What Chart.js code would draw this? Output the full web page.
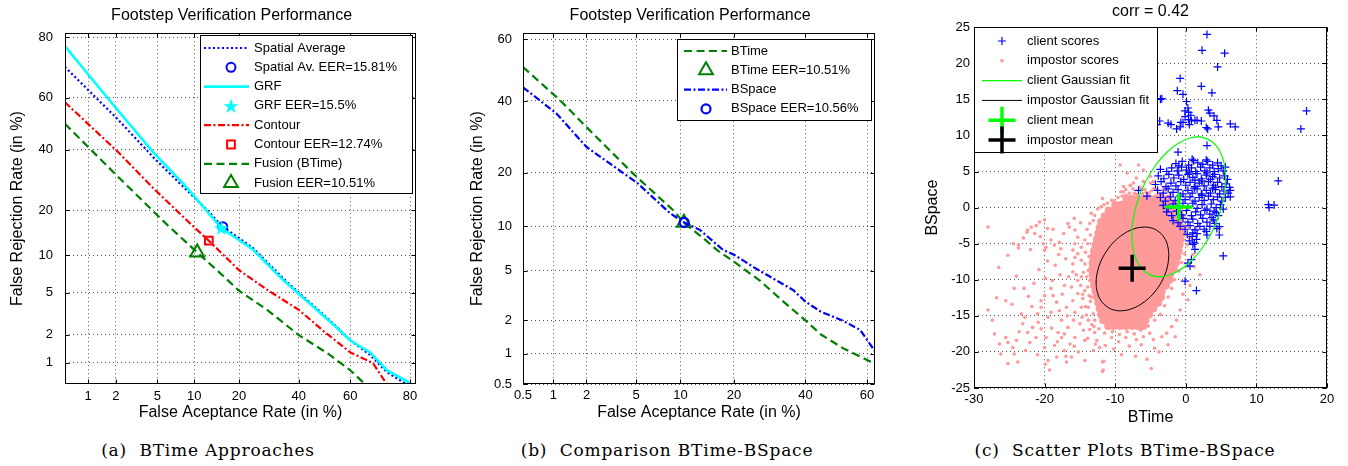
<!DOCTYPE html>
<html>
<head>
<meta charset="utf-8">
<title>Footstep Verification Performance</title>
<script src="https://cdn.jsdelivr.net/npm/chart.js"></script>
<style>
  body { margin: 0; background: #fff; width: 1348px; height: 466px; position: relative; overflow: hidden; }
  canvas { position: absolute; top: 0; }
  #detA { left: 0; }
  #detB { left: 460px; }
  #scatterC { left: 900px; }
  .caption { position: absolute; top: 440px; width: 320px; text-align: center; font: 17px/20px "DejaVu Serif", serif; letter-spacing: 0.8px; white-space: pre; color: #000; }
</style>
</head>
<body>
<canvas id="detA" width="440" height="430"></canvas>
<canvas id="detB" width="440" height="430"></canvas>
<canvas id="scatterC" width="448" height="430"></canvas>
<div class="caption" style="left:48px">(a)  BTime Approaches</div>
<div class="caption" style="left:507px">(b)  Comparison BTime-BSpace</div>
<div class="caption" style="left:965px">(c)  Scatter Plots BTime-BSpace</div>
<script>
// ---- (a) BTime approaches, DET curves (FAR %, FRR %)
const detTicksA = [1, 2, 5, 10, 20, 40, 60, 80];
const spatialFar = [0.53, 2.06, 4.77, 8.8, 12.4, 15.81, 24.1, 34.2, 43.2, 53.3, 59.9, 67.3, 73.0, 79.0];
const spatialFrr = [71.0, 52.0, 36.5, 25.8, 20.0, 15.81, 11.3, 6.6, 4.3, 2.6, 1.76, 1.22, 0.78, 0.56];
const grfFar = [0.53, 2.06, 4.6, 8.8, 15.5, 24.1, 34.2, 43.2, 53.3, 59.9, 67.3, 73.0, 80.5];
const grfFrr = [77.5, 55.5, 39.0, 26.6, 15.5, 11.0, 6.4, 4.2, 2.55, 1.75, 1.3, 0.82, 0.56];
const contourFar = [0.53, 2.06, 4.6, 8.8, 12.74, 20.0, 28.6, 40.0, 49.4, 60.0, 68.3, 73.0];
const contourFrr = [58.3, 39.5, 26.5, 17.3, 12.74, 7.7, 5.3, 3.5, 2.2, 1.3, 0.99, 0.56];
const fusionFar = [0.53, 2.06, 6.1, 10.51, 15.2, 20.0, 28.6, 40.0, 51.0, 60.0, 65.5];
const fusionFrr = [50.0, 30.6, 16.2, 10.51, 7.3, 5.2, 3.5, 1.98, 1.28, 0.82, 0.56];
const spatialEer = 15.81, grfEer = 15.5, contourEer = 12.74, fusionEer = 10.51;

// ---- (b) BTime vs BSpace
const detTicksB = [0.5, 1, 2, 5, 10, 20, 40, 60];
const btimeFar = [0.5, 1.16, 2.0, 4.7, 9.0, 10.51, 13.7, 16.3, 20.0, 26.5, 33.2, 40.0, 45.0, 52.3, 60.0, 62.5];
const btimeFrr = [51.0, 40.2, 32.0, 19.9, 12.5, 10.51, 8.4, 7.0, 5.8, 4.2, 2.87, 2.0, 1.5, 1.12, 0.87, 0.8];
const bspaceFar = [0.5, 1.07, 2.0, 5.1, 8.6, 10.56, 13.1, 17.6, 20.0, 24.8, 29.0, 36.2, 40.0, 45.0, 52.0, 57.8, 62.5];
const bspaceFrr = [44.4, 36.1, 26.4, 17.7, 12.0, 10.56, 9.5, 7.0, 6.5, 5.3, 4.55, 3.55, 2.87, 2.37, 2.0, 1.65, 1.05];
const btimeEer = 10.51, bspaceEer = 10.56;

// ---- (c) scatter BTime / BSpace scores
const clientScores = [
  // sparse ones
  [3.0,24.0],[2.3,21.8],[5.5,21.4],[4.5,19.5],[-0.8,17.9],[-1.2,16.2],[-0.4,15.7],[2.2,16.8],[3.7,15.9],
  [0.1,14.7],[-3.4,15.1],[-3.6,15.0],[0.3,13.8],[-0.1,13.4],[0.4,13.2],[-0.1,12.6],[0.7,12.8],[0.4,12.2],
  [0.8,12.0],[-0.4,11.8],[0.5,11.5],[3.2,13.5],[3.4,13.1],[4.0,12.7],[4.4,12.1],[-0.7,11.8],[-0.8,11.2],
  [1.6,12.1],[2.2,12.0],[1.3,12.1],[-3.7,12.0],[-2.5,11.7],[-2.1,11.5],[-1.3,10.9],[2.9,11.1],[3.1,10.9],
  [4.6,11.2],[6.3,11.6],[7.0,11.2],[-4.1,11.5],[17.1,13.4],[16.3,10.9],[13.1,3.7],[11.7,0.4],[12.5,0.35],
  [11.8,0.0],[6.3,2.4],[6.3,1.5],[-1.1,7.7],[3.0,8.6],[-6.7,2.4],[-5.5,1.6],[5.3,-6.7],[1.5,-11.5],
  [-0.1,-10.2],[0.6,-8.1],[0.3,-7.7],[0.8,-7.2],[1.3,-5.8],[1.0,-5.1],[1.5,-4.4],[1.0,-3.5],[2.9,-3.3],
  [3.9,-1.7],[3.4,-2.6],[4.3,-0.7],[4.75,-3.8],[4.75,-2.65],[3.0,-3.8],
  // main cluster
  [-1.4,6.1],[-0.5,6.4],[0.4,5.9],[1.1,6.5],[1.7,6.2],[2.4,6.0],[3.1,6.4],[3.8,5.9],[4.5,6.2],[5.0,5.8],
  [0.9,6.7],[2.9,6.6],[-1.0,5.8],
  [-3.6,5.3],[-2.7,5.0],[-2.0,5.5],[-1.2,5.1],[-0.6,5.6],[0.1,5.2],[0.8,5.5],[1.4,5.0],[2.1,5.6],[2.7,5.1],
  [3.4,5.5],[4.0,5.0],[4.6,5.4],[5.3,5.1],[5.6,5.6],[0.5,4.8],[3.0,4.8],
  [-3.9,4.4],[-3.1,4.0],[-2.4,4.6],[-1.7,4.1],[-1.0,4.5],[-0.3,3.9],[0.3,4.6],[1.0,4.2],[1.6,4.7],[2.2,4.0],
  [2.9,4.5],[3.5,3.9],[4.1,4.6],[4.8,4.1],[5.5,4.4],[5.9,3.9],[1.3,3.8],[3.8,4.3],
  [-4.3,3.2],[-3.5,3.6],[-2.8,2.9],[-2.1,3.4],[-1.4,3.0],[-0.7,3.6],[0.0,3.1],[0.6,3.5],[1.3,2.9],[1.9,3.4],
  [2.6,3.0],[3.2,3.6],[3.9,3.1],[4.5,3.5],[5.1,2.9],[5.7,3.3],[6.2,2.8],[2.3,3.7],[4.2,2.8],
  [-4.0,2.4],[-3.2,2.0],[-2.5,2.6],[-1.8,2.1],[-1.1,2.5],[-0.4,1.9],[0.3,2.4],[0.9,2.0],[1.6,2.6],[2.2,1.9],
  [2.9,2.4],[3.5,2.0],[4.2,2.5],[4.8,1.9],[5.4,2.3],[6.0,2.0],[1.2,2.7],[3.8,2.7],
  [-3.6,1.4],[-2.9,0.9],[-2.2,1.5],[-1.5,1.0],[-0.8,1.6],[-0.1,1.1],[0.6,1.5],[1.3,0.9],[1.9,1.4],[2.6,1.0],
  [3.2,1.6],[3.9,1.1],[4.5,1.5],[5.1,0.9],[5.6,1.4],[2.3,1.7],
  [-3.2,0.3],[-2.5,-0.1],[-1.8,0.5],[-1.1,0.0],[-0.4,0.6],[0.3,0.1],[1.0,0.6],[1.6,-0.1],[2.3,0.4],[3.0,-0.2],
  [3.6,0.5],[4.3,0.0],[4.9,0.4],[5.3,-0.2],
  [-2.7,-0.6],[-2.0,-1.1],[-1.3,-0.5],[-0.6,-1.0],[0.1,-0.4],[0.8,-1.1],[1.4,-0.6],[2.1,-1.0],[2.7,-0.4],
  [3.4,-0.9],[4.0,-0.5],[4.6,-1.1],
  [-1.8,-1.8],[-1.1,-2.1],[-0.4,-1.5],[0.3,-2.0],[1.0,-1.6],[1.7,-2.2],[2.4,-1.5],[3.0,-2.0],[3.7,-1.4],[4.1,-2.2],
  [-0.8,-2.6],[-0.1,-3.0],[0.6,-2.5],[1.3,-3.1],[2.0,-2.6],[2.6,-3.0],[4.4,-2.9],
  [0.2,-3.7],[0.9,-4.0],[1.6,-3.6],[0.5,-4.6],[1.2,-4.9]
];
const impostorSpread = [
  [-28.0,-2.7],[-24.4,-5.0],[-23.7,-5.2],[-23.7,-5.6],[-22.4,-3.1],[-22.5,-3.4],[-21.9,-2.7],[-21.2,-2.5],
  [-20.7,-2.0],[-20.0,-1.7],[-21.4,-3.6],[-22.0,-5.8],[-20.2,-5.0],[-19.8,-5.5],[-20.0,-5.9],[-19.1,-4.5],
  [-18.6,-5.2],[-17.9,-4.8],[-17.7,-5.7],[-16.7,-2.2],[-16.5,-2.7],[-15.7,-3.1],[-15.3,-4.1],[-15.7,-5.0],
  [-16.0,-5.9],[-14.8,-5.5],[-14.3,-4.5],[-13.4,-0.8],[-13.1,-1.8],[-12.0,0.1],[-11.8,1.25],[-11.1,0.6],
  [-9.2,2.2],[-8.5,1.7],[-7.8,3.1],[-24.3,-11.2],[-22.9,-11.2],[-25.5,-12.9],[-24.6,-13.4],[-28.0,-14.2],
  [-27.1,-17.5],[-26.4,-18.9],[-25.2,-18.7],[-25.5,-18.0],[-24.0,-18.4],[-24.5,-19.4],[-26.2,-20.3],
  [-25.2,-21.6],[-23.8,-21.4],[-24.3,-20.3],[-23.3,-14.7],[-23.1,-16.1],[-22.4,-17.3],[-21.7,-16.6],
  [-21.2,-18.0],[-22.1,-18.7],[-21.0,-14.7],[-20.5,-13.8],[-20.0,-12.2],[-20.5,-12.9],[-19.1,-11.2],
  [-18.8,-12.2],[-19.5,-15.2],[-19.1,-14.5],[-20.5,-16.8],[-19.8,-18.0],[-20.0,-19.4],[-19.5,-21.2],
  [-19.9,-21.7],[-19.3,-22.5],[-18.3,-20.7],[-18.6,-19.1],[-17.6,-18.0],[-17.2,-19.8],[-16.4,-18.9],
  [-15.7,-18.0],[-16.2,-20.7],[-16.9,-21.4],[-15.2,-20.0],[-14.3,-18.4],[-14.5,-17.0],[-13.8,-15.6],
  [-12.9,-17.3],[-13.1,-19.8],[-14.3,-21.2],[-11.8,-21.4],[-11.8,-22.7],[-12.2,-19.4],[-12.6,-18.4],
  [-17.9,-14.3],[-16.9,-13.8],[-16.0,-12.9],[-15.7,-14.5],[-14.8,-13.8],[-15.3,-11.9],[-16.2,-11.0],
  [-15.3,-10.1],[-16.0,-8.9],[-16.0,-7.8],[-17.6,-15.6],[-16.7,-16.6],[-18.1,-17.3],[-17.2,-17.5],
  [-14.3,-7.8],[-13.8,-8.7],[-14.8,-9.6],[-14.3,-11.5],[-13.6,-10.1],[-13.4,-12.4],[-13.8,-13.8],
  [-13.1,-14.7],[-12.9,-15.6],[-15.7,-6.9],[-14.8,-7.3],[-15.3,-6.4],[-14.0,-3.0],[-13.6,-2.2],
  [-14.2,-6.2],[-13.9,-5.0],[-14.5,-9.0],[-13.9,-11.0],[-13.5,-13.0],[-14.6,-12.6],[-13.3,-16.2],
  [-12.3,-16.8],[-11.5,-17.4],[-10.4,-17.2],[-9.4,-17.6],[-8.3,-17.2],[-7.3,-17.5],[-6.4,-17.0],
  [-5.3,-16.4],[-4.4,-15.6],[-3.6,-14.8],[-3.0,-13.6],[-2.5,-12.4],[-2.0,-11.2],[-1.6,-10.0],[-1.0,-8.8],
  [-0.6,-7.6],[-0.2,-6.4],[0.2,-5.2],[-0.1,-3.8],[0.3,-2.6],[-9.6,1.4],[-10.5,1.0],[-7.3,2.0],[-6.5,2.8],
  [-5.6,2.1],[-4.6,2.6],[-3.8,1.9],[-2.9,2.4],[-6.0,3.6],[-5.0,3.4],[-7.0,4.1],[-8.8,2.9],[-9.3,5.9],
  [-6.7,5.9],[-8.3,4.8],[-6.0,5.2],[-5.0,4.3],[-7.4,3.4],[-8.8,2.2],[-6.2,2.5],[-4.6,3.6],[-5.3,2.0],
  [-7.9,1.5],[-4.1,2.5],[-7.9,3.1],[-10.2,0.9],[-4.6,-18.3],[-4.4,-19.5],[-5.1,-17.4],[-6.0,-17.9],
  [-3.4,-17.9],[-2.7,-17.4],[-1.5,-17.9],[-3.8,-20.0],[-11.6,-21.3],[-11.7,-22.5],[-2.0,-16.5],
  [-1.3,-15.6],[-0.8,-14.2],[0.3,-12.8],[-7.0,-18.3],[-8.5,-18.0],[-9.5,-18.6],[-10.5,-18.0],
  [-13.0,-16.5],[-2.5,-19.0],[2.0,-9.3],[1.2,-8.2],[0.6,-10.8],[-0.4,-12.0],[1.0,-6.5],[0.8,-4.2],[1.4,-2.8],
  [-18.5,-8.0],[-17.8,-9.3],[-18.9,-10.1],[-17.2,-10.8],[-17.5,-12.0],[-18.3,-13.1],[-16.6,-9.6],[-17.0,-7.1],
  [-18.0,-6.5],[-19.6,-7.4],[-20.8,-8.6],[-19.9,-9.8],[-21.5,-10.5],[-22.3,-12.3],[-21.8,-13.7],[-22.8,-15.2],
  [-20.9,-15.9],[-19.0,-16.7],[-18.2,-18.6],[-17.0,-20.6],[-15.8,-19.2],[-15.0,-16.1],[-14.1,-14.9],
  [-15.9,-15.6],[-16.8,-15.0],[-15.5,-9.3],[-14.9,-10.8],[-14.6,-12.0],[-14.2,-13.7],[-14.7,-15.2],
  [-13.6,-16.9],[-13.9,-18.1],[-12.8,-18.9],[-11.4,-19.1],[-10.2,-19.6],[-9.1,-20.4],[-8.0,-19.2],
  [-7.1,-20.6],[-6.3,-19.0],[-5.5,-21.0],[-4.9,-22.3],[-14.9,-2.1],[-15.8,-1.5],[-17.3,-3.6],[-18.8,-3.0],
  [-19.6,-2.9],[-20.6,-4.0],[-23.0,-4.2],[-25.2,-6.6],[-26.5,-8.3],[-24.0,-9.5],[-26.8,-12.5],[-27.4,-15.6],
  [-23.6,-17.2],[-22.7,-19.8],[-21.0,-20.4],[-13.5,-3.8],[-13.7,-6.8],[-14.0,-9.6],[-13.7,-12.2],
  [-12.5,-0.2],[-12.9,-1.1],[-11.6,0.4],
  [-8.0,2.0],[-7.0,1.8],[-6.1,1.9],[-5.2,1.7],[-4.3,1.6],[-3.4,1.9],[-2.6,1.5],[-9.0,1.6],[-8.5,2.5],
  [-7.5,2.6],[-5.8,2.5],[-4.9,2.3],[-3.2,2.8],[-2.1,2.0]
];
const impostorDenseRows = [
  [1.2, [-8.4, -7.6, -6.7, -5.9, -5.0, -4.2, -3.3, -2.5]],
  [0.4, [-10.0, -9.1, -8.3, -7.4, -6.6, -5.7, -4.9, -4.0, -3.2, -2.3, -1.5]],
  [-0.4, [-10.9, -10.0, -9.2, -8.3, -7.5, -6.6, -5.8, -4.9, -4.1, -3.2, -2.4, -1.5, -0.9]],
  [-1.2, [-11.5, -10.6, -9.8, -8.9, -8.1, -7.2, -6.4, -5.5, -4.7, -3.8, -3.0, -2.1, -1.3, -0.7]],
  [-2.0, [-12.0, -11.1, -10.3, -9.4, -8.6, -7.7, -6.9, -6.0, -5.2, -4.3, -3.5, -2.6, -1.8, -0.9]],
  [-2.8, [-12.2, -11.4, -10.5, -9.7, -8.8, -8.0, -7.1, -6.3, -5.4, -4.6, -3.7, -2.9, -2.0, -1.2, -0.5]],
  [-3.6, [-12.4, -11.6, -10.7, -9.9, -9.0, -8.2, -7.3, -6.5, -5.6, -4.8, -3.9, -3.1, -2.2, -1.4, -0.6]],
  [-4.4, [-12.6, -11.8, -10.9, -10.1, -9.2, -8.4, -7.5, -6.7, -5.8, -5.0, -4.1, -3.3, -2.4, -1.6, -0.7]],
  [-5.2, [-12.8, -12.0, -11.1, -10.3, -9.4, -8.6, -7.7, -6.9, -6.0, -5.2, -4.3, -3.5, -2.6, -1.8, -0.9]],
  [-6.0, [-13.0, -12.1, -11.3, -10.4, -9.6, -8.7, -7.9, -7.0, -6.2, -5.3, -4.5, -3.6, -2.8, -1.9, -1.0]],
  [-6.8, [-13.1, -12.3, -11.4, -10.6, -9.7, -8.9, -8.0, -7.2, -6.3, -5.5, -4.6, -3.8, -2.9, -2.1, -1.2]],
  [-7.6, [-13.2, -12.4, -11.5, -10.7, -9.8, -9.0, -8.1, -7.3, -6.4, -5.6, -4.7, -3.9, -3.0, -2.2, -1.4]],
  [-8.4, [-13.2, -12.3, -11.5, -10.6, -9.8, -8.9, -8.1, -7.2, -6.4, -5.5, -4.7, -3.8, -3.0, -2.1, -1.7]],
  [-9.2, [-13.2, -12.4, -11.5, -10.7, -9.8, -9.0, -8.1, -7.3, -6.4, -5.6, -4.7, -3.9, -3.0, -2.2]],
  [-10.0, [-13.1, -12.2, -11.4, -10.5, -9.7, -8.8, -8.0, -7.1, -6.3, -5.4, -4.6, -3.7, -2.9, -2.3]],
  [-10.8, [-13.0, -12.2, -11.3, -10.5, -9.6, -8.8, -7.9, -7.1, -6.2, -5.4, -4.5, -3.7, -2.8]],
  [-11.6, [-12.8, -11.9, -11.1, -10.2, -9.4, -8.5, -7.7, -6.8, -6.0, -5.1, -4.3, -3.4]],
  [-12.4, [-12.6, -11.8, -10.9, -10.1, -9.2, -8.4, -7.5, -6.7, -5.8, -5.0, -4.1, -3.5]],
  [-13.2, [-12.4, -11.5, -10.7, -9.8, -9.0, -8.1, -7.3, -6.4, -5.6, -4.7, -3.9]],
  [-14.0, [-12.2, -11.4, -10.5, -9.7, -8.8, -8.0, -7.1, -6.3, -5.4, -4.6]],
  [-14.8, [-12.0, -11.1, -10.3, -9.4, -8.6, -7.7, -6.9, -6.0, -5.2]],
  [-15.6, [-11.7, -10.8, -10.0, -9.1, -8.3, -7.4, -6.6, -5.7]],
  [-16.4, [-11.0, -10.2, -9.3, -8.5, -7.6, -6.8, -6.0]]
];
// Gaussian fit contours
const clientFit = [
  [5.65,4.04],[5.42,6.20],[4.76,7.94],[3.70,9.15],[2.33,9.74],[0.72,9.68],[-1.0,8.96],[-2.72,7.64],
  [-4.33,5.80],[-5.70,3.57],[-6.76,1.12],[-7.42,-1.42],[-7.65,-3.84],[-7.42,-6.00],[-6.76,-7.74],
  [-5.70,-8.95],[-4.33,-9.54],[-2.72,-9.48],[-1.0,-8.76],[0.72,-7.44],[2.33,-5.60],[3.70,-3.37],
  [4.76,-0.92],[5.42,1.62],[5.65,4.04]
];
const impostorFit = [
  [-2.40,-6.60],[-2.58,-5.24],[-3.09,-4.11],[-3.91,-3.29],[-4.97,-2.80],[-6.22,-2.72],[-7.55,-3.02],
  [-8.88,-3.70],[-10.13,-4.70],[-11.19,-5.97],[-12.01,-7.41],[-12.52,-8.92],[-12.70,-10.40],
  [-12.52,-11.76],[-12.01,-12.89],[-11.19,-13.71],[-10.13,-14.20],[-8.88,-14.28],[-7.55,-13.98],
  [-6.22,-13.30],[-4.97,-12.30],[-3.91,-11.03],[-3.09,-9.59],[-2.58,-8.08],[-2.40,-6.60]
];
const clientMean = [-1.0, 0.1];
const impostorMean = [-7.6, -8.4];

const BLUE = '#0000ff', CYAN = '#00ffff', RED = '#ff0000', GREEN = '#008000', PINK = '#ff9a9a';
const FONT = '"Liberation Sans", Arial, Helvetica, sans-serif';
Chart.defaults.font.family = FONT;
Chart.defaults.font.size = 13;
Chart.defaults.color = '#000';

// inverse normal CDF (Acklam) for the DET axes
function probit(p) {
  const a = [-39.69683028665376, 220.9460984245205, -275.9285104469687, 138.3577518672690, -30.66479806614716, 2.506628277459239];
  const b = [-54.47609879822406, 161.5858368580409, -155.6989798598866, 66.80131188771972, -13.28068155288572];
  const c = [-0.007784894002430293, -0.3223964580411365, -2.400758277161838, -2.549732539343734, 4.374664141464968, 2.938163982698783];
  const d = [0.007784695709041462, 0.3224671290700398, 2.445134137142996, 3.754408661907416];
  const lo = 0.02425;
  if (p < lo) {
    const q = Math.sqrt(-2 * Math.log(p));
    return (((((c[0]*q+c[1])*q+c[2])*q+c[3])*q+c[4])*q+c[5]) / ((((d[0]*q+d[1])*q+d[2])*q+d[3])*q+1);
  }
  if (p > 1 - lo) {
    const q = Math.sqrt(-2 * Math.log(1 - p));
    return -(((((c[0]*q+c[1])*q+c[2])*q+c[3])*q+c[4])*q+c[5]) / ((((d[0]*q+d[1])*q+d[2])*q+d[3])*q+1);
  }
  const q = p - 0.5, r = q * q;
  return (((((a[0]*r+a[1])*r+a[2])*r+a[3])*r+a[4])*r+a[5])*q / (((((b[0]*r+b[1])*r+b[2])*r+b[3])*r+b[4])*r+1);
}
function normCdf(z) {
  const t = 1 / (1 + 0.2316419 * Math.abs(z));
  const y = 0.3989423 * Math.exp(-z * z / 2) * t * (0.3193815 + t * (-0.3565638 + t * (1.781478 + t * (-1.821256 + t * 1.330274))));
  return z > 0 ? 1 - y : y;
}

class ProbitScale extends Chart.LinearScale {
  configure() {
    super.configure();
    this._pLo = probit(this.min / 100);
    this._pHi = probit(this.max / 100);
  }
  getPixelForValue(value) {
    return this.getPixelForDecimal((probit(value / 100) - this._pLo) / (this._pHi - this._pLo));
  }
  getValueForPixel(pixel) {
    return 100 * normCdf(this._pLo + this.getDecimalForPixel(pixel) * (this._pHi - this._pLo));
  }
}
ProbitScale.id = 'probit';
ProbitScale.defaults = Chart.LinearScale.defaults;
Chart.register(ProbitScale);

function starImage(color, size) {
  const cv = document.createElement('canvas');
  cv.width = cv.height = size;
  const g = cv.getContext('2d');
  g.fillStyle = color;
  g.beginPath();
  for (let k = 0; k < 10; k++) {
    const r = k % 2 ? size * 0.19 : size / 2;
    const ang = -Math.PI / 2 + k * Math.PI / 5;
    g.lineTo(size / 2 + r * Math.cos(ang), size / 2 + 0.6 + r * Math.sin(ang));
  }
  g.closePath();
  g.fill();
  return cv;
}

const toPts = arr => arr.map(p => ({ x: p[0], y: p[1] }));
const rowsToPts = rows => rows.flatMap(r => r[1].map(x => ({ x, y: r[0] })));
// later datasets on top, as in the original plots
const stacked = list => list.map((d, i) => Object.assign(d, { order: -i }));

function lineDs(label, xs, ys, color, width, dash) {
  return { label, data: xs.map((x, i) => ({ x, y: ys[i] })), showLine: true, borderColor: color,
    borderWidth: width, borderDash: dash, pointRadius: 0, tension: 0 };
}
function markerDs(label, v, color, style, radius, width) {
  return { label, data: [{ x: v, y: v }], showLine: false, pointStyle: style, pointRadius: radius,
    pointBorderColor: color, borderColor: color, pointBackgroundColor: 'rgba(0,0,0,0)',
    backgroundColor: 'rgba(0,0,0,0)', pointBorderWidth: width };
}

// axes box with inner tick marks
const framePlugin = {
  id: 'frame',
  afterDatasetsDraw(chart) {
    const { ctx, chartArea: a } = chart;
    const L = Math.round(a.left) + 0.5, R = Math.round(a.right) - 0.5;
    const T = Math.round(a.top) + 0.5, B = Math.round(a.bottom) - 0.5;
    const xs = chart.scales.x, ys = chart.scales.y;
    ctx.save();
    ctx.strokeStyle = '#000';
    ctx.lineWidth = 1;
    ctx.setLineDash([]);
    ctx.strokeRect(L, T, R - L, B - T);
    ctx.beginPath();
    xs.ticks.forEach((t, i) => {
      const p = Math.round(xs.getPixelForTick(i)) + 0.5;
      ctx.moveTo(p, B); ctx.lineTo(p, B - 4);
      ctx.moveTo(p, T); ctx.lineTo(p, T + 4);
    });
    ys.ticks.forEach((t, i) => {
      const p = Math.round(ys.getPixelForTick(i)) + 0.5;
      ctx.moveTo(L, p); ctx.lineTo(L + 4, p);
      ctx.moveTo(R, p); ctx.lineTo(R - 4, p);
    });
    ctx.stroke();
    ctx.restore();
  }
};

// boxed legend drawn inside the plot area
const boxLegend = {
  id: 'boxLegend',
  afterDatasetsDraw(chart, args, o) {
    const { ctx, chartArea: a } = chart;
    const left = Math.round(o.fromLeft ? a.left + o.dx : a.right - o.dx - o.width);
    const top = Math.round(a.top + o.dy);
    ctx.save();
    ctx.fillStyle = '#fff';
    ctx.fillRect(left, top, o.width, o.height);
    ctx.strokeStyle = '#000';
    ctx.lineWidth = 1;
    ctx.setLineDash([]);
    ctx.strokeRect(left + 0.5, top + 0.5, o.width, o.height);
    ctx.font = '13px ' + FONT;
    ctx.textBaseline = 'middle';
    ctx.fillStyle = '#000';
    let row = 0;
    chart.data.datasets.forEach(ds => {
      if (ds.legendSkip) return;
      const y = top + o.firstRow + row * o.rowGap;
      row++;
      ctx.save();
      if (ds.showLine) {
        ctx.strokeStyle = ds.borderColor;
        ctx.lineWidth = ds.borderWidth;
        ctx.setLineDash(ds.borderDash || []);
        ctx.beginPath();
        ctx.moveTo(left + o.lineFrom, y);
        ctx.lineTo(left + o.lineTo, y);
        ctx.stroke();
      } else {
        ctx.strokeStyle = ds.pointBorderColor;
        ctx.fillStyle = ds.pointBackgroundColor;
        ctx.lineWidth = ds.pointBorderWidth;
        Chart.helpers.drawPoint(ctx, { pointStyle: ds.pointStyle, radius: ds.pointRadius, rotation: 0,
          borderWidth: ds.pointBorderWidth }, left + o.markerX, y);
      }
      ctx.restore();
      ctx.fillText(ds.label, left + o.textX, y);
    });
    ctx.restore();
  }
};

function detOptions(c) {
  const tickFont = { size: 13 };
  return {
    responsive: false, animation: false, events: [], devicePixelRatio: 1,
    layout: { padding: { left: 0, top: 0, right: c.padRight, bottom: 0 } },
    plugins: {
      legend: { display: false },
      tooltip: { enabled: false },
      title: { display: true, text: 'Footstep Verification Performance\u00a0\u00a0\u00a0\u00a0', fullSize: false,
        color: '#000', font: { size: 16, weight: 'normal' }, padding: { top: 6, bottom: 8 } },
      boxLegend: c.legend
    },
    scales: {
      x: {
        type: 'probit', position: 'bottom', min: c.xMin, max: c.xMax,
        afterBuildTicks: s => { s.ticks = c.xTicks.map(v => ({ value: v })); },
        afterFit: s => { s.height = 46; },
        ticks: { autoSkip: false, maxRotation: 0, minRotation: 0, padding: c.xPad, color: '#000', font: tickFont, callback: v => String(v) },
        grid: { color: '#555', lineWidth: 1, drawTicks: false },
        border: { display: false, dash: [1, 3] },
        title: { display: true, text: 'False Aceptance Rate (in %)', color: '#000', font: { size: 16 }, padding: { top: 0, bottom: 8 } }
      },
      y: {
        type: 'probit', position: 'left', min: c.yMin, max: c.yMax,
        afterBuildTicks: s => { s.ticks = c.yTicks.map(v => ({ value: v })); },
        afterFit: s => { s.width = c.yWidth; },
        ticks: { autoSkip: false, padding: c.yPad, color: '#000', font: tickFont, callback: v => String(v) },
        grid: { color: '#555', lineWidth: 1, drawTicks: false },
        border: { display: false, dash: [1, 3] },
        title: { display: true, text: 'False Rejection Rate (in %)', color: '#000', font: { size: 16 }, padding: { top: 8, bottom: 0 } }
      }
    }
  };
}

// (a)
new Chart(document.getElementById('detA'), {
  type: 'scatter',
  data: { datasets: stacked([
    lineDs('Spatial Average', spatialFar, spatialFrr, BLUE, 2.2, [2, 2.5]),
    markerDs('Spatial Av. EER=15.81%', spatialEer, BLUE, 'circle', 4.5, 2),
    lineDs('GRF', grfFar, grfFrr, CYAN, 2.6, []),
    markerDs('GRF EER=15.5%', grfEer, CYAN, starImage(CYAN, 16), 8, 0),
    lineDs('Contour', contourFar, contourFrr, RED, 2.2, [7, 2.5, 2, 2.5]),
    markerDs('Contour EER=12.74%', contourEer, RED, 'rect', 5.5, 2),
    lineDs('Fusion (BTime)', fusionFar, fusionFrr, GREEN, 2.2, [8, 4.5]),
    markerDs('Fusion EER=10.51%', fusionEer, GREEN, 'triangle', 8, 2)
  ]) },
  options: detOptions({
    padRight: 24, xMin: 0.532, xMax: 81.6, yMin: 0.564, yMax: 81.1,
    xTicks: detTicksA, yTicks: detTicksA, xPad: 5, yPad: 12, yWidth: 65,
    legend: { dx: 4, dy: 2, width: 212, height: 158, firstRow: 13, rowGap: 19.3, lineFrom: 4, lineTo: 49, markerX: 31, textX: 54 }
  }),
  plugins: [framePlugin, boxLegend]
});

// (b)
new Chart(document.getElementById('detB'), {
  type: 'scatter',
  data: { datasets: stacked([
    lineDs('BTime', btimeFar, btimeFrr, GREEN, 2.2, [8, 4.5]),
    markerDs('BTime EER=10.51%', btimeEer, GREEN, 'triangle', 8, 2),
    lineDs('BSpace', bspaceFar, bspaceFrr, BLUE, 2.2, [7, 2.5, 2, 2.5]),
    markerDs('BSpace EER=10.56%', bspaceEer, BLUE, 'circle', 4.5, 2.2)
  ]) },
  options: detOptions({
    padRight: 25, xMin: 0.5, xMax: 62.5, yMin: 0.5, yMax: 61.9,
    xTicks: detTicksB, yTicks: detTicksB, xPad: 4, yPad: 11, yWidth: 63,
    legend: { dx: 4, dy: 6, width: 194, height: 81, firstRow: 12, rowGap: 19.3, lineFrom: 7, lineTo: 50, markerX: 29, textX: 54 }
  }),
  plugins: [framePlugin, boxLegend]
});

// (c)
new Chart(document.getElementById('scatterC'), {
  type: 'scatter',
  data: { datasets: [
    { label: 'client scores', data: toPts(clientScores), pointStyle: 'cross', pointRadius: 4, pointBorderColor: BLUE,
      borderColor: BLUE, pointBorderWidth: 1.2, pointBackgroundColor: BLUE, order: 2 },
    { label: 'impostor scores', data: toPts(impostorSpread), pointStyle: 'circle', pointRadius: 1.8,
      pointBackgroundColor: PINK, backgroundColor: PINK, pointBorderColor: PINK, pointBorderWidth: 0, order: 4 },
    { label: 'client Gaussian fit', data: toPts(clientFit), showLine: true, borderColor: '#00ff00', borderWidth: 1.2,
      pointRadius: 0, tension: 0.4, order: 1 },
    { label: 'impostor Gaussian fit', data: toPts(impostorFit), showLine: true, borderColor: '#000', borderWidth: 1,
      pointRadius: 0, tension: 0.4, order: 1 },
    { label: 'client mean', data: toPts([clientMean]), pointStyle: 'cross', pointRadius: 13.5, pointBorderColor: '#00ff00',
      borderColor: '#00ff00', pointBorderWidth: 3.5, pointBackgroundColor: '#00ff00', order: 0 },
    { label: 'impostor mean', data: toPts([impostorMean]), pointStyle: 'cross', pointRadius: 13.5, pointBorderColor: '#000',
      borderColor: '#000', pointBorderWidth: 3.5, pointBackgroundColor: '#000', order: 0 },
    { label: 'impostor scores', legendSkip: true, data: rowsToPts(impostorDenseRows), pointStyle: 'circle', pointRadius: 4,
      pointBackgroundColor: PINK, backgroundColor: PINK, pointBorderColor: PINK, pointBorderWidth: 0, order: 5 }
  ] },
  options: {
    responsive: false, animation: false, events: [], devicePixelRatio: 1,
    layout: { padding: { left: 0, top: 0, right: 21, bottom: 0 } },
    plugins: {
      legend: { display: false },
      tooltip: { enabled: false },
      title: { display: true, text: 'corr = 0.42', fullSize: false, color: '#000',
        font: { size: 16, weight: 'normal' }, padding: { top: 2, bottom: 6 } },
      boxLegend: { fromLeft: true, dx: 0, dy: 0, width: 183, height: 125, firstRow: 14, rowGap: 19.8,
        lineFrom: 8, lineTo: 48, markerX: 28, textX: 53 }
    },
    scales: {
      x: {
        type: 'linear', position: 'bottom', min: -30, max: 20,
        afterFit: s => { s.height = 42; },
        ticks: { stepSize: 10, autoSkip: false, maxRotation: 0, padding: 4, color: '#000', font: { size: 13 } },
        grid: { color: '#555', lineWidth: 1, drawTicks: false },
        border: { display: false, dash: [1, 3] },
        title: { display: true, text: 'BTime', color: '#000', font: { size: 16 }, padding: { top: 0, bottom: 2.4 } }
      },
      y: {
        type: 'linear', position: 'left', min: -25, max: 25,
        afterFit: s => { s.width = 74; },
        ticks: { stepSize: 5, autoSkip: false, padding: 4, color: '#000', font: { size: 13 } },
        grid: { color: '#555', lineWidth: 1, drawTicks: false },
        border: { display: false, dash: [1, 3] },
        title: { display: true, text: 'BSpace', color: '#000', font: { size: 16 }, padding: { top: 23, bottom: 0 } }
      }
    }
  },
  plugins: [framePlugin, boxLegend]
});
</script>
</body>
</html>
